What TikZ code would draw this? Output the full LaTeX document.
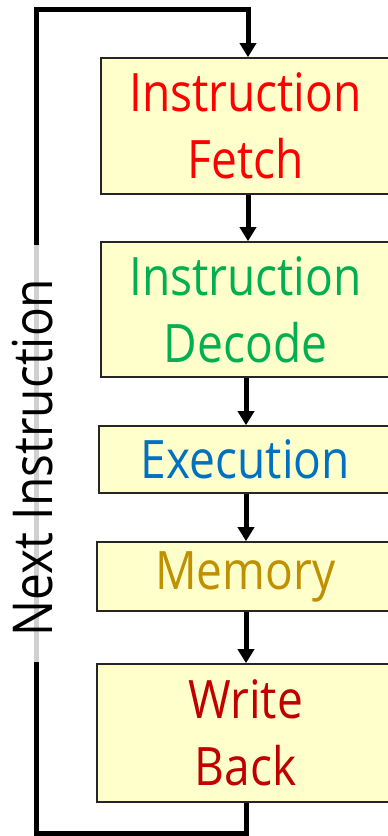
\documentclass[tikz,border=0pt]{standalone}
\usepackage{fontspec}
\setmainfont[FakeStretch=0.87]{Open Sans}
\usetikzlibrary{arrows.meta}
\definecolor{boxfill}{HTML}{FFFFCC}
\definecolor{cfetch}{HTML}{FF0000}
\definecolor{cdecode}{HTML}{00B050}
\definecolor{cexec}{HTML}{0070C0}
\definecolor{cmem}{HTML}{BF9000}
\definecolor{cwb}{HTML}{C00000}
\definecolor{glight}{HTML}{D0D0D0}
\begin{document}
\begin{tikzpicture}[x=1pt,y=-1pt,
  stage/.style={draw=black!85,line width=1.6pt,fill=boxfill,inner sep=0pt,
    align=center,font=\fontsize{53}{67}\selectfont},
  flow/.style={line width=5pt,-{Triangle[length=14pt,width=16pt]}},
  loopline/.style={line width=5pt}]
\useasboundingbox (0,0) rectangle (388,836);
\node[stage,minimum width=289pt,minimum height=136pt,text=cfetch] (fetch) at (245.5,126) {Instruction\\Fetch};
\node[stage,minimum width=289pt,minimum height=135pt,text=cdecode] (decode) at (245.5,309.5) {Instruction\\Decode};
\node[stage,minimum width=293pt,minimum height=67pt,text=cexec] (exec) at (245.5,459.5) {Execution};
\node[stage,minimum width=297pt,minimum height=69pt,text=cmem] (mem) at (245.5,576.5) {Memory};
\node[stage,minimum width=297pt,minimum height=138pt,text=cwb] (wb) at (245.5,733) {Write\\Back};
\coordinate (br) at (246,833);
\coordinate (bl) at (36,833);
\coordinate (gl) at (36,662);
\coordinate (gu) at (36,245);
\coordinate (tl) at (36,9);
\coordinate (tr) at (248,9);
\draw[flow] (fetch.south -| tr) -- (decode.north -| tr);
\draw[flow] (decode.south -| br) -- (exec.north -| br);
\draw[flow] (exec.south -| br) -- (mem.north -| br);
\draw[flow] (mem.south -| br) -- (wb.north -| br);
\draw[loopline] (wb.south -| br) -- (br) -- (bl) -- (gl);
\draw[loopline,glight] (gl) -- (gu);
\draw[loopline,-{Triangle[length=14pt,width=16pt]}] (gu) -- (tl) -- (tr) -- (fetch.north -| tr);
\node[rotate=90,font=\fontsize{55}{60}\selectfont,anchor=base,inner sep=0pt] (next) at (52,457.5) {Next Instruction};
\end{tikzpicture}
\end{document}
